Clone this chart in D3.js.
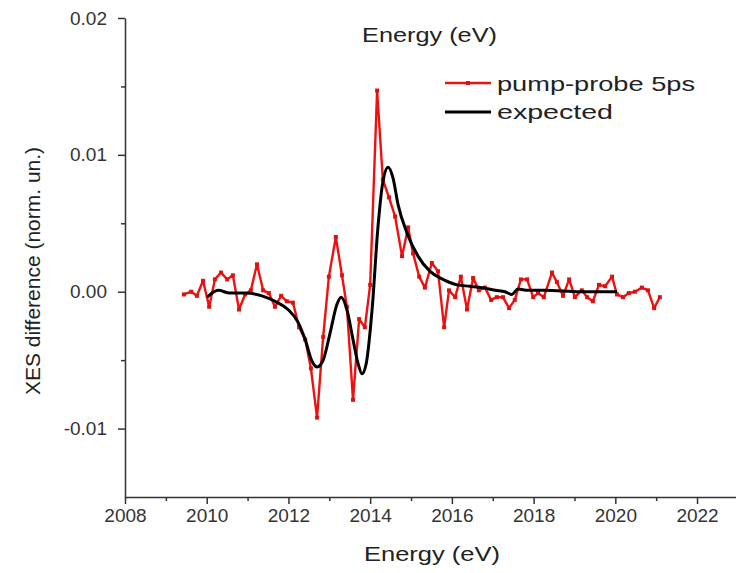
<!DOCTYPE html>
<html>
<head>
<meta charset="utf-8">
<script src="https://cdn.jsdelivr.net/npm/d3@7"></script>
<style>
  body { margin: 0; background: #fff; }
  svg { font-family: "Liberation Sans", Arial, sans-serif; }
  .axis path, .axis line { stroke: #333; stroke-width: 1.5; }
  .axis text { fill: #333; font-size: 19px; }
  .title { fill: #222; font-size: 21px; }
</style>
</head>
<body>
<div id="chart"></div>
<script>
// pump-probe 5ps (measured)
var probeEnergy = [2009.44, 2009.62, 2009.76, 2009.91, 2010.06, 2010.20, 2010.35, 2010.50, 2010.64, 2010.79,
  2010.94, 2011.08, 2011.23, 2011.38, 2011.52, 2011.67, 2011.82, 2011.96, 2012.11, 2012.26,
  2012.41, 2012.55, 2012.70, 2012.85, 2012.99, 2013.16, 2013.31, 2013.43, 2013.58, 2013.73,
  2013.87, 2014.00, 2014.17, 2014.31, 2014.46, 2014.61, 2014.78, 2014.93, 2015.05, 2015.20,
  2015.34, 2015.51, 2015.66, 2015.81, 2015.93, 2016.08, 2016.22, 2016.37, 2016.52, 2016.66,
  2016.81, 2016.96, 2017.10, 2017.25, 2017.40, 2017.54, 2017.69, 2017.84, 2017.99, 2018.11,
  2018.25, 2018.45, 2018.57, 2018.72, 2018.87, 2019.01, 2019.18, 2019.31, 2019.45, 2019.60,
  2019.75, 2019.92, 2020.04, 2020.19, 2020.33, 2020.48, 2020.65, 2020.80, 2020.95, 2021.09];
var probeValue = [-0.0002, 0.0000, -0.0003, 0.0008, -0.0011, 0.0009, 0.0014, 0.0009, 0.0012, -0.0013,
  -0.0002, 0.0001, 0.0020, 0.0001, -0.0001, -0.0011, -0.0003, -0.0007, -0.0008, -0.0026,
  -0.0035, -0.0056, -0.0092, -0.0033, 0.0011, 0.0040, 0.0012, -0.0011, -0.0079, -0.0020,
  -0.0026, 0.0005, 0.0147, 0.0082, 0.0069, 0.0055, 0.0026, 0.0047, 0.0028, 0.0011,
  0.0003, 0.0021, 0.0015, -0.0026, 0.0001, -0.0004, 0.0011, -0.0013, 0.0010, 0.0001,
  0.0003, -0.0006, -0.0004, -0.0004, -0.0012, -0.0006, 0.0009, 0.0009, -0.0004, -0.0001,
  -0.0004, 0.0014, 0.0007, -0.0003, 0.0009, -0.0004, 0.0001, -0.0004, -0.0007, 0.0005,
  0.0004, 0.0011, -0.0002, -0.0004, -0.0001, 0.0000, 0.0003, 0.0001, -0.0012, -0.0004];

// expected curve
var expectedEnergy = [2010.01, 2010.13, 2010.28, 2010.57, 2010.94, 2011.35, 2011.67, 2011.99, 2012.23, 2012.41,
  2012.58, 2012.70, 2012.85, 2013.02, 2013.19, 2013.29, 2013.43, 2013.58, 2013.70, 2013.80,
  2013.90, 2014.05, 2014.19, 2014.31, 2014.44, 2014.56, 2014.68, 2014.90, 2015.17, 2015.46,
  2015.78, 2016.13, 2016.44, 2016.74, 2017.06, 2017.30, 2017.47, 2017.62, 2017.86, 2018.28,
  2019.14, 2020.04];
var expectedValue = [-0.0004, -0.0001, 0.0001, -0.0001, -0.0001, -0.0003, -0.0007, -0.0013, -0.0022, -0.0035,
  -0.0051, -0.0055, -0.0050, -0.0030, -0.0009, -0.0004, -0.0013, -0.0035, -0.0052, -0.0060,
  -0.0053, -0.0012, 0.0047, 0.0080, 0.0091, 0.0083, 0.0064, 0.0043, 0.0026, 0.0015,
  0.0009, 0.0005, 0.0004, 0.0003, 0.0001, 0.0000, -0.0002, 0.0002, 0.0001, 0.0001,
  0.0000, 0.0000];

var xTicks = [2008, 2010, 2012, 2014, 2016, 2018, 2020, 2022];
var yTicks = [-0.01, 0.00, 0.01, 0.02];

var svgWidth = 736;
var svgHeight = 573;

var margin = { top: 18, right: 0, bottom: 76, left: 125 };

var svg = d3.select('#chart')
    .append('svg')
    .attr('width', svgWidth)
    .attr('height', svgHeight);

var x = d3.scaleLinear()
    .domain([2008, 2023])
    .range([margin.left, margin.left + 15 * 40.86]);

var y = d3.scaleLinear()
    .domain([-0.015, 0.02])
    .range([svgHeight - margin.bottom, margin.top]);

// minor ticks first, then major
svg.append('g')
    .attr('class', 'axis')
    .attr('transform', `translate(0,${y(-0.015)})`)
    .call(d3.axisBottom(x).tickValues(d3.range(2009, 2024, 2)).tickSize(4).tickFormat(''))
    .call(g => g.select('.domain').remove());

svg.append('g')
    .attr('class', 'axis')
    .attr('transform', `translate(${x(2008)},0)`)
    .call(d3.axisLeft(y).tickValues([-0.005, 0.005, 0.015]).tickSize(4).tickFormat(''))
    .call(g => g.select('.domain').remove());

svg.append('g')
    .attr('class', 'axis')
    .attr('transform', `translate(0,${y(-0.015)})`)
    .call(d3.axisBottom(x).tickValues(xTicks).tickSize(7).tickSizeOuter(0).tickPadding(5).tickFormat(d3.format('d')));

// plain hyphen for negatives, like the original
svg.append('g')
    .attr('class', 'axis')
    .attr('transform', `translate(${x(2008)},0)`)
    .call(d3.axisLeft(y).tickValues(yTicks).tickSize(7).tickSizeOuter(0).tickPadding(11).tickFormat(d => d.toFixed(2)));

// series
var probe = probeEnergy.map((e, i) => [e, probeValue[i]]);
var expected = expectedEnergy.map((e, i) => [e, expectedValue[i]]);

svg.append('path')
    .datum(probe)
    .attr('fill', 'none')
    .attr('stroke', '#f01010')
    .attr('stroke-width', 2.4)
    .attr('stroke-linejoin', 'round')
    .attr('d', d3.line().x(d => x(d[0])).y(d => y(d[1])));

svg.selectAll('.pt')
    .data(probe)
    .enter()
    .append('rect')
    .attr('class', 'pt')
    .attr('x', d => x(d[0]) - 2)
    .attr('y', d => y(d[1]) - 2)
    .attr('width', 4)
    .attr('height', 4)
    .attr('fill', '#e01010');

svg.append('path')
    .datum(expected)
    .attr('fill', 'none')
    .attr('stroke', '#000')
    .attr('stroke-width', 3)
    .attr('stroke-linejoin', 'round')
    .attr('d', d3.line().curve(d3.curveMonotoneX).x(d => x(d[0])).y(d => y(d[1])));

// legend
var legend = svg.append('g').attr('transform', 'translate(445,83)');
legend.append('line')
    .attr('x1', 0).attr('x2', 46).attr('y1', 0).attr('y2', 0)
    .attr('stroke', '#f01010').attr('stroke-width', 2.4);
legend.append('rect')
    .attr('x', 21).attr('y', -2).attr('width', 4).attr('height', 4)
    .attr('fill', '#e01010');
legend.append('text')
    .attr('class', 'title')
    .attr('x', 52).attr('y', 8)
    .attr('textLength', 198)
    .attr('lengthAdjust', 'spacingAndGlyphs')
    .text('pump-probe 5ps');
legend.append('line')
    .attr('x1', 0).attr('x2', 46).attr('y1', 29).attr('y2', 29)
    .attr('stroke', '#000').attr('stroke-width', 3);
legend.append('text')
    .attr('class', 'title')
    .attr('x', 52).attr('y', 36)
    .attr('textLength', 116)
    .attr('lengthAdjust', 'spacingAndGlyphs')
    .text('expected');

// axis titles
svg.append('text')
    .attr('class', 'title')
    .attr('x', 362)
    .attr('y', 42)
    .attr('textLength', 135)
    .attr('lengthAdjust', 'spacingAndGlyphs')
    .text('Energy (eV)');

svg.append('text')
    .attr('class', 'title')
    .attr('x', 364)
    .attr('y', 561)
    .attr('textLength', 136)
    .attr('lengthAdjust', 'spacingAndGlyphs')
    .text('Energy (eV)');

svg.append('text')
    .attr('class', 'title')
    .attr('text-anchor', 'middle')
    .attr('transform', 'translate(40,271) rotate(-90)')
    .text('XES difference (norm. un.)');
</script>
</body>
</html>
